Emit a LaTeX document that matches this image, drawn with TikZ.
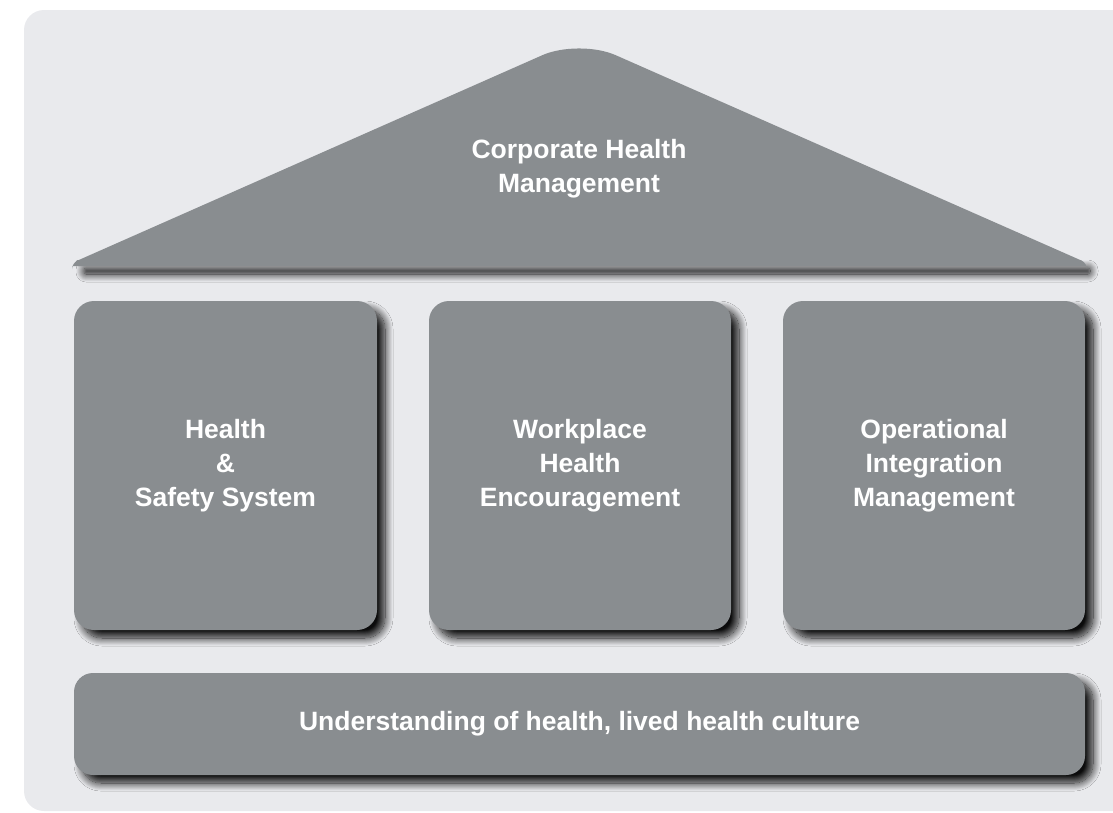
\documentclass[tikz,border=0pt]{standalone}
\usepackage{fontspec}
\setmainfont{Liberation Sans}
\usetikzlibrary{shadows.blur}
\definecolor{bgc}{HTML}{E9EAED}
\definecolor{boxc}{HTML}{898D90}
\tikzset{
  pshadow/.style={blur shadow={shadow xshift=8pt, shadow yshift=-8pt, shadow blur radius=8pt, shadow opacity=95, shadow blur steps=16}},
  block/.style={fill=boxc, rounded corners=20pt, pshadow},
  lbl/.style={text=white, font=\fontsize{26.5}{34}\selectfont\bfseries, align=center},
}
\begin{document}
\begin{tikzpicture}[x=1pt,y=-1pt]
\useasboundingbox (0,0) rectangle (1113,812);
\fill[bgc, rounded corners=20pt] (24,10) rectangle (1160,811);
% roof shadow band and roof
\path[fill=boxc, rounded corners=2pt, pshadow] (76,260) rectangle (1082,266);
\fill[boxc] (72,266) [rounded corners=6pt] -- (72,263) [rounded corners=40pt] -- (579,39) [rounded corners=6pt] -- (1087,263) [sharp corners] -- (1087,266) -- cycle;
\node[lbl] (roof) at (579,169) {Corporate Health\\Management};
% pillars
\path[block] (74,301) rectangle (377,630);
\path[block] (429,301) rectangle (731,630);
\path[block] (783,301) rectangle (1085,630);
\node[lbl] (p1) at (225.5,466) {Health\\\&\\Safety System};
\node[lbl] (p2) at (580,466) {Workplace\\Health\\Encouragement};
\node[lbl] (p3) at (934,466) {Operational\\Integration\\Management};
% base
\path[block, rounded corners=19pt] (74,673) rectangle (1085,775);
\node[lbl] (base) at (579.5,724) {Understanding of health, lived health culture};
\end{tikzpicture}
\end{document}
